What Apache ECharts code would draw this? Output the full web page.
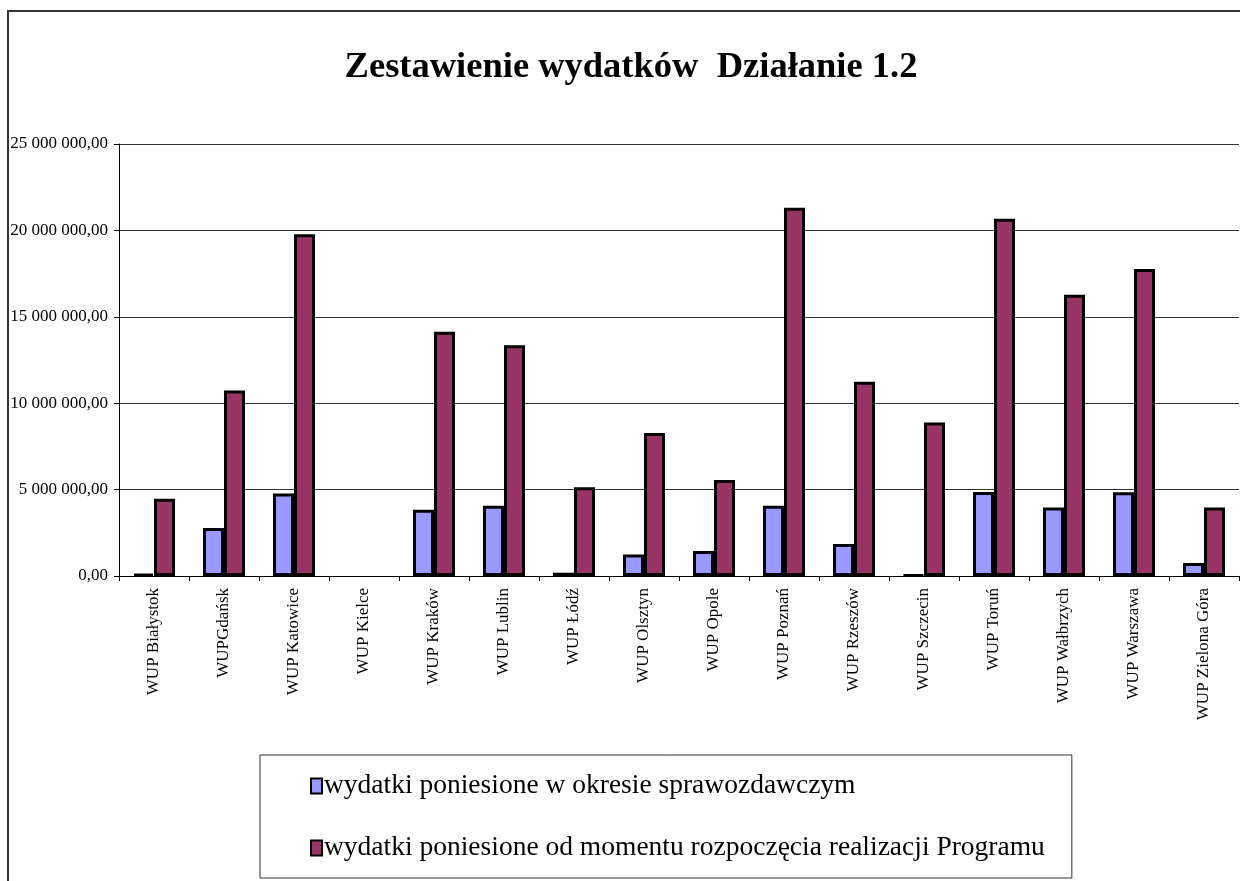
<!DOCTYPE html>
<html>
<head>
<meta charset="utf-8">
<script src="https://cdn.jsdelivr.net/npm/echarts@6/dist/echarts.min.js"></script>
<style>
  html, body { margin: 0; padding: 0; background: #fff; }
  #chart { width: 1240px; height: 881px; }
</style>
</head>
<body>
<div id="chart"></div>
<script>
// categories (WUP offices)
var categories = [
  "WUP Białystok", "WUPGdańsk", "WUP Katowice", "WUP Kielce", "WUP Kraków",
  "WUP Lublin", "WUP Łódź", "WUP Olsztyn", "WUP Opole", "WUP Poznań",
  "WUP Rzeszów", "WUP Szczecin", "WUP Toruń", "WUP Wałbrzych", "WUP Warszawa",
  "WUP Zielona Góra"
];

// spending in the reporting period (Kielce: no data)
var periodValues = [
  110000, 2780000, 4780000, null, 3840000,
  4070000, 190000, 1250000, 1450000, 4070000,
  1850000, 50000, 4860000, 3970000, 4840000,
  750000
];

// spending since the programme started
var totalValues = [
  4470000, 10740000, 19770000, null, 14140000,
  13350000, 5130000, 8270000, 5550000, 21310000,
  11240000, 8890000, 20680000, 16280000, 17760000,
  3970000
];

var seriesNames = [
  "wydatki poniesione w okresie sprawozdawczym",
  "wydatki poniesione od momentu rozpoczęcia realizacji Programu"
];

var yMax = 25000000;
var yStep = 5000000;

var serif = "'Liberation Serif', 'Times New Roman', serif";

function formatPl(v) {
  var s = Math.round(v).toString().replace(/\B(?=(\d{3})+(?!\d))/g, " ");
  return s + ",00";
}

var myChart = echarts.init(document.getElementById("chart"));

var option = {
  animation: false,
  backgroundColor: "#fff",
  textStyle: { fontFamily: serif, color: "#000" },
  title: {
    text: "Zestawienie wydatków  Działanie 1.2",
    left: 626,
    textAlign: "center",
    top: 44,
    textStyle: { fontFamily: serif, fontSize: 36.5, fontWeight: "bold", color: "#000" }
  },
  graphic: [
    {
      type: "rect",
      shape: { x: 8, y: 11, width: 1250, height: 900 },
      style: { fill: "none", stroke: "#333", lineWidth: 2 },
      silent: true
    }
  ],
  legend: {
    orient: "vertical",
    left: 260,
    top: 755,
    padding: [17, 27, 16, 50],
    itemGap: 34,
    itemWidth: 11,
    itemHeight: 15,
    icon: "rect",
    borderColor: "#333",
    borderWidth: 1,
    textStyle: { fontFamily: serif, fontSize: 27.5, color: "#000", padding: [0, 0, 0, -3] },
    data: seriesNames
  },
  grid: {
    left: 119,
    right: 1,
    top: 144,
    bottom: 305
  },
  xAxis: {
    type: "category",
    data: categories,
    axisLine: { lineStyle: { color: "#000", width: 1 } },
    axisTick: { show: true, length: 5, lineStyle: { color: "#000" } },
    axisLabel: {
      interval: 0,
      rotate: 90,
      margin: 12,
      fontFamily: serif,
      fontSize: 17,
      color: "#000"
    }
  },
  yAxis: {
    type: "value",
    min: 0,
    max: yMax,
    interval: yStep,
    axisLine: { show: true, lineStyle: { color: "#000", width: 1 } },
    axisTick: { show: true, length: 5, lineStyle: { color: "#000" } },
    splitLine: { lineStyle: { color: "#333", width: 1 } },
    axisLabel: {
      margin: 11,
      fontFamily: serif,
      fontSize: 17,
      color: "#000",
      formatter: formatPl
    }
  },
  series: [
    {
      name: seriesNames[0],
      type: "bar",
      data: periodValues,
      barWidth: 21,
      barGap: "0%",
      itemStyle: { color: "#9999FF", borderColor: "#000", borderWidth: 3 }
    },
    {
      name: seriesNames[1],
      type: "bar",
      data: totalValues,
      barWidth: 21,
      barGap: "0%",
      itemStyle: { color: "#993366", borderColor: "#000", borderWidth: 3 }
    }
  ]
};

myChart.setOption(option);
</script>
</body>
</html>
